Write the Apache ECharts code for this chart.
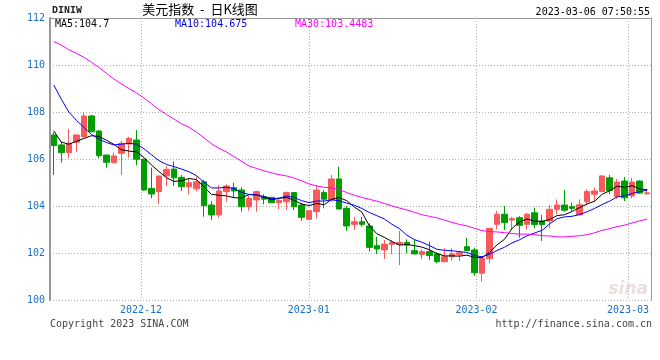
<!DOCTYPE html>
<html><head><meta charset="utf-8">
<script src="https://cdn.jsdelivr.net/npm/echarts@6/dist/echarts.min.js"></script>
<style>html,body{margin:0;padding:0;background:#fff}#c{width:660px;height:360px}</style>
</head><body><div id="c"></div>
<script>
// ---- data ----
const firstDay = '2022-11-15';
const lastDay = '2023-03-06';
const opens = [107.02,106.60,106.27,106.71,106.95,107.83,107.19,106.17,105.84,106.24,
  106.64,106.81,105.99,104.75,104.61,105.28,105.57,105.22,104.82,104.73,
  105.03,104.04,103.62,104.61,104.78,104.68,103.97,104.26,104.40,104.37,
  104.14,104.18,104.57,104.04,103.43,103.76,104.57,104.26,105.15,103.90,
  103.22,103.33,103.15,102.31,102.13,102.37,102.37,102.45,102.10,101.94,
  102.06,101.96,101.63,101.84,101.94,102.27,102.13,101.14,101.77,103.22,
  103.65,103.40,103.50,103.22,103.71,103.36,103.36,103.86,104.04,103.97,
  103.62,104.18,104.50,104.61,105.20,104.40,105.06,104.43,105.06,104.52];
const closes = [106.57,106.27,106.67,107.02,107.83,107.16,106.14,105.86,106.13,106.67,
  106.88,105.99,104.68,104.51,105.28,105.56,105.20,104.82,104.99,105.03,
  104.01,103.62,104.64,104.85,104.64,103.97,104.33,104.61,104.29,104.14,
  104.23,104.57,103.97,103.52,103.80,104.68,104.29,105.15,103.87,103.15,
  103.33,103.22,102.24,102.17,102.38,102.45,102.45,102.34,101.96,102.06,
  101.89,101.63,101.84,101.96,102.01,102.10,101.16,101.77,103.05,103.65,
  103.29,103.46,103.18,103.65,103.21,103.21,103.86,104.04,103.82,103.90,
  104.05,104.62,104.64,105.28,104.66,105.02,104.35,105.02,104.55,104.56];
const lows = [105.32,105.84,106.03,106.31,106.88,107.14,106.03,105.63,105.84,105.32,
  106.06,105.74,104.65,104.33,104.09,104.85,104.85,104.64,104.50,104.64,
  103.54,103.40,103.50,104.18,104.35,103.76,103.80,103.76,104.07,104.14,
  103.87,103.83,103.83,103.37,103.43,103.48,103.90,104.18,103.87,102.95,
  102.98,103.12,102.06,101.96,101.74,101.94,101.49,101.99,101.96,101.74,
  101.70,101.56,101.63,101.67,101.66,102.09,101.03,100.78,101.56,103.01,
  102.98,102.98,102.65,103.01,103.05,102.51,103.05,103.65,103.76,103.79,
  103.62,104.04,104.21,104.61,104.50,104.30,104.21,104.33,104.52,104.48];
const highs = [107.14,106.74,107.28,107.05,108.01,107.87,107.23,106.17,106.27,106.77,
  106.95,107.23,106.02,105.63,105.28,105.70,105.89,105.32,105.18,105.25,
  105.11,104.21,104.89,104.92,104.99,104.80,104.44,104.65,104.50,104.37,
  104.37,104.61,104.57,104.14,103.80,104.89,104.68,105.32,105.67,104.00,
  103.54,103.54,103.26,102.69,102.55,102.55,102.94,102.58,102.58,102.16,
  102.48,102.03,102.20,102.20,102.09,102.65,102.23,101.84,103.05,103.79,
  104.00,103.54,103.57,103.71,103.93,103.62,104.04,104.28,104.68,104.14,
  104.28,104.71,104.78,105.32,105.32,105.15,105.23,105.20,105.10,104.66];
const ma5Head = [107.2,106.72,106.63,106.75];
const ma10Head = [109.15,108.55,108.0,107.65,107.35,107.05,106.85,106.7,106.6];
const ma30Head = [111.0,110.85,110.65,110.5,110.33,110.12,109.9,109.65,109.4,109.2,
  109.0,108.82,108.6,108.35,108.1,107.9,107.7,107.5,107.35,107.15,
  106.9,106.65,106.45,106.3,106.1,105.9,105.7,105.6,105.5];
const yMin = 100, yMax = 112, yStep = 2;
const monthTicks = ['2022-12-01','2023-01-01','2023-02-01','2023-03-01'];
const monthLabels = ['2022-12','2023-01','2023-02','2023-03'];
const timeStart = '2022-11-14T04:20:00Z';
const timeEnd = '2023-03-05T06:00:00Z';
const maLegend = ['MA5:104.7','MA10:104.675','MA30:103.4483'];
const stamp = '2023-03-06 07:50:55';
const titleText = '美元指数  -  日K线图';

// ---- build ----
const dates = [];
for (let t = Date.parse(firstDay + 'T00:00:00Z'); t <= Date.parse(lastDay + 'T00:00:00Z'); t += 86400000) {
  const d = new Date(t); const wd = d.getUTCDay();
  if (wd !== 0 && wd !== 6) dates.push(d.toISOString().slice(0,10));
}
const kData = opens.map((o,i)=>[o, closes[i], lows[i], highs[i]]);
function ma(n, head){
  return closes.map((c,i)=>{
    if (i < head.length) return head[i];
    let s = 0; for (let j=i-n+1;j<=i;j++) s += closes[j];
    return +(s/n).toFixed(4);
  });
}
const monthMs = monthTicks.map(s=>Date.parse(s+'T00:00:00Z'));
const mono = '"DejaVu Sans Mono", monospace';
const blueLbl = '#1a6fc4';
const gridDot = {color:'#b0b0b0', type:[1,2], width:1};
const chart = echarts.init(document.getElementById('c'), null, {renderer:'canvas'});
chart.setOption({
  animation:false,
  backgroundColor:'#ffffff',
  grid:{left:50,right:9,top:18,bottom:60},
  xAxis:[
    {type:'category', data:dates, boundaryGap:true, position:'top',
     axisLine:{show:true,lineStyle:{color:'#999',width:1}}, axisTick:{show:false},
     axisLabel:{show:false}, splitLine:{show:false}},
    {type:'value', min:Date.parse(timeStart), max:Date.parse(timeEnd), position:'bottom',
     axisLine:{show:false}, axisTick:{show:false, customValues:monthMs},
     axisLabel:{customValues:monthMs, color:blueLbl, fontFamily:mono, fontSize:10, margin:5,
       formatter:v=>{const k=monthMs.indexOf(v); return k>=0?monthLabels[k]:'';}},
     splitLine:{show:true, lineStyle:gridDot}}
  ],
  yAxis:[
    {type:'value', min:yMin, max:yMax, interval:yStep, position:'left',
     axisLine:{show:true,lineStyle:{color:'#999',width:2}}, axisTick:{show:false},
     axisLabel:{color:blueLbl, fontFamily:mono, fontSize:10, margin:5, padding:[0,0,4,0]},
     splitLine:{show:true, lineStyle:gridDot}},
    {type:'value', min:yMin, max:yMax, position:'right',
     axisLine:{show:true,lineStyle:{color:'#999',width:1}}, axisTick:{show:false},
     axisLabel:{show:false}, splitLine:{show:false}}
  ],
  series:[
    {type:'candlestick', xAxisIndex:0, yAxisIndex:0, data:kData, barWidth:'80%',
     itemStyle:{color:'#f65a5a', color0:'#009c00', borderColor:'#f65a5a', borderColor0:'#009c00', borderWidth:1}},
    {type:'line', xAxisIndex:0, yAxisIndex:0, data:ma(5,ma5Head), symbol:'none', lineStyle:{color:'#000',width:1}},
    {type:'line', xAxisIndex:0, yAxisIndex:0, data:ma(10,ma10Head), symbol:'none', lineStyle:{color:'#0000ff',width:1}},
    {type:'line', xAxisIndex:0, yAxisIndex:0, data:ma(30,ma30Head), symbol:'none', lineStyle:{color:'#ff00ff',width:1}}
  ],
  graphic:[
    {type:'text', x:52, y:10, style:{text:'DINIW', fill:'#222', font:'bold 10px "Liberation Mono"', textVerticalAlign:'middle', verticalAlign:'middle'}},
    {type:'text', x:200, y:9, style:{text:titleText, fill:'#000', font:'13px "Noto Sans CJK SC"', textAlign:'center', align:'center', textVerticalAlign:'middle', verticalAlign:'middle'}},
    {type:'text', x:650, y:12, style:{text:stamp, fill:'#000', font:'10px '+mono, textAlign:'right', align:'right', textVerticalAlign:'middle', verticalAlign:'middle'}},
    {type:'text', x:55, y:24, style:{text:maLegend[0], fill:'#000', font:'10px '+mono, textVerticalAlign:'middle', verticalAlign:'middle'}},
    {type:'text', x:175, y:24, style:{text:maLegend[1], fill:'#0000e6', font:'10px '+mono, textVerticalAlign:'middle', verticalAlign:'middle'}},
    {type:'text', x:295, y:24, style:{text:maLegend[2], fill:'#ff00ff', font:'10px '+mono, textVerticalAlign:'middle', verticalAlign:'middle'}},
    {type:'text', x:50, y:324, style:{text:'Copyright 2023 SINA.COM', fill:'#444', font:'10px '+mono, textVerticalAlign:'middle', verticalAlign:'middle'}},
    {type:'text', x:652, y:324, style:{text:'http://finance.sina.com.cn', fill:'#444', font:'10px '+mono, textAlign:'right', align:'right', textVerticalAlign:'middle', verticalAlign:'middle'}},
    {type:'text', x:648, y:290, z:-1, style:{text:'sina', fill:'#ecdede', font:'italic bold 17px "DejaVu Sans"', textAlign:'right', align:'right', textVerticalAlign:'middle', verticalAlign:'middle'}}
  ]
});
</script></body></html>
